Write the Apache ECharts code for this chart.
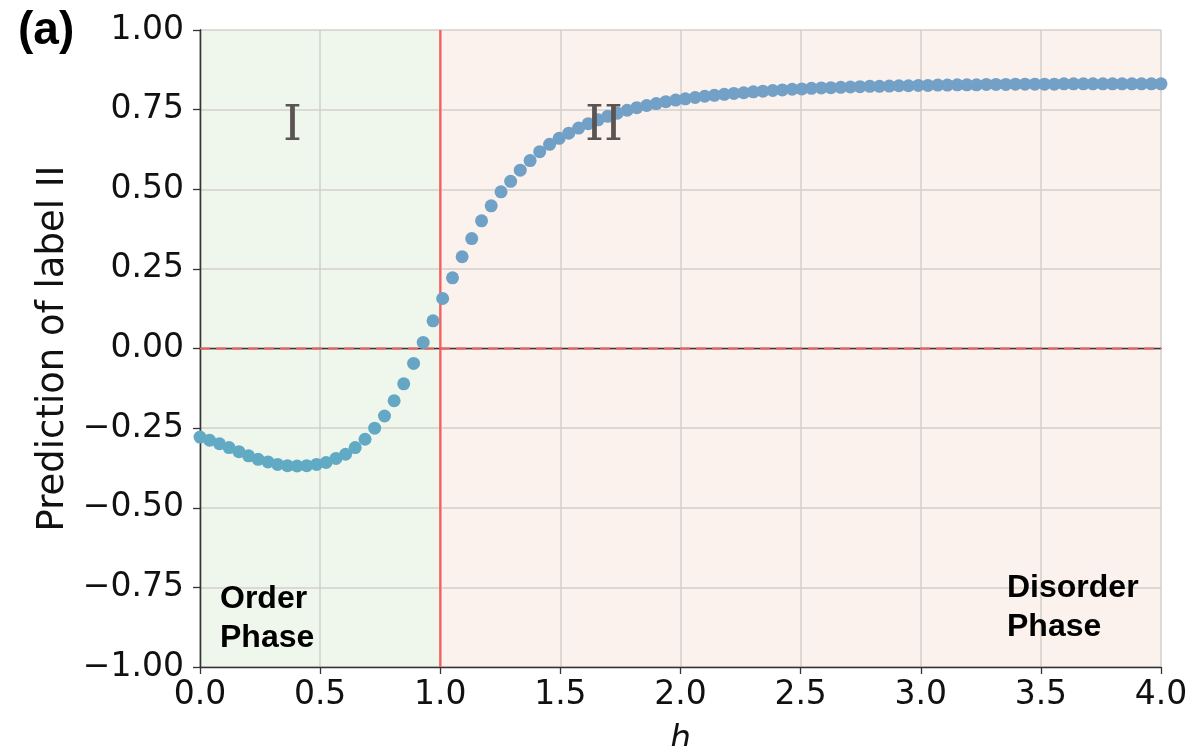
<!DOCTYPE html>
<html>
<head>
<meta charset="utf-8">
<script src="https://cdn.jsdelivr.net/npm/echarts@6/dist/echarts.min.js"></script>
<style>
  html, body { margin: 0; padding: 0; background: #fff; }
  #chart { width: 1196px; height: 746px; }
</style>
</head>
<body>
<div id="chart"></div>
<script>
// h values (100 points, 0 .. 4)
const hValues = [
    0.000, 0.040, 0.081, 0.121, 0.162, 0.202, 0.242, 0.283, 0.323, 0.364,
    0.404, 0.444, 0.485, 0.525, 0.566, 0.606, 0.646, 0.687, 0.727, 0.768,
    0.808, 0.848, 0.889, 0.929, 0.970, 1.010, 1.051, 1.091, 1.131, 1.172,
    1.212, 1.253, 1.293, 1.333, 1.374, 1.414, 1.455, 1.495, 1.535, 1.576,
    1.616, 1.657, 1.697, 1.737, 1.778, 1.818, 1.859, 1.899, 1.939, 1.980,
    2.020, 2.061, 2.101, 2.141, 2.182, 2.222, 2.263, 2.303, 2.343, 2.384,
    2.424, 2.465, 2.505, 2.545, 2.586, 2.626, 2.667, 2.707, 2.747, 2.788,
    2.828, 2.869, 2.909, 2.949, 2.990, 3.030, 3.071, 3.111, 3.152, 3.192,
    3.232, 3.273, 3.313, 3.354, 3.394, 3.434, 3.475, 3.515, 3.556, 3.596,
    3.636, 3.677, 3.717, 3.758, 3.798, 3.838, 3.879, 3.919, 3.960, 4.000
];

// prediction of label II
const predValues = [
    -0.278, -0.288, -0.299, -0.311, -0.324, -0.337, -0.348, -0.356, -0.364, -0.368,
    -0.369, -0.368, -0.364, -0.358, -0.345, -0.332, -0.311, -0.285, -0.250, -0.212,
    -0.164, -0.111, -0.047, 0.019, 0.087, 0.157, 0.222, 0.288, 0.345, 0.401,
    0.448, 0.492, 0.525, 0.560, 0.590, 0.618, 0.641, 0.660, 0.676, 0.692,
    0.706, 0.718, 0.729, 0.739, 0.748, 0.756, 0.763, 0.769, 0.775, 0.780,
    0.784, 0.788, 0.792, 0.795, 0.798, 0.801, 0.803, 0.806, 0.808, 0.810,
    0.812, 0.814, 0.815, 0.817, 0.818, 0.819, 0.820, 0.821, 0.822, 0.823,
    0.823, 0.824, 0.825, 0.825, 0.826, 0.826, 0.827, 0.827, 0.828, 0.828,
    0.828, 0.829, 0.829, 0.829, 0.830, 0.830, 0.830, 0.830, 0.830, 0.831,
    0.831, 0.831, 0.831, 0.831, 0.831, 0.831, 0.831, 0.831, 0.831, 0.831
];

const phaseAreas = [
    { from: 0, to: 1, color: '#eff7ec' },
    { from: 1, to: 4, color: '#fbf1ed' }
];
const criticalH = 1.0;
const xRange = [0, 4];
const yRange = [-1, 1];

const TICK_FONT = 'DejaVu Sans';
const minus = s => s.replace('-', '\u2212');

const chart = echarts.init(document.getElementById('chart'), null, { renderer: 'canvas' });

const baseAxis = {
    axisLine: { show: true, onZero: false, lineStyle: { color: '#333', width: 1.3 } },
    axisTick: { show: true, inside: false, length: 7, lineStyle: { color: '#333', width: 1.3 } },
    splitLine: { show: true, lineStyle: { color: '#d3cfcb', width: 1.5 } }
};

chart.setOption({
    animation: false,
    backgroundColor: '#fff',
    grid: { left: 200, right: 35, top: 30, bottom: 79, containLabel: false, outerBoundsMode: 'none' },
    visualMap: {
        show: false,
        type: 'continuous',
        seriesIndex: 1,
        dimension: 1,
        min: -0.4,
        max: 0.85,
        inRange: { color: ['#5fabc4', '#6ea1c6', '#73a0c6'] }
    },
    xAxis: [{
        ...baseAxis,
        type: 'value',
        min: xRange[0], max: xRange[1], interval: 0.5,
        z: 3,
        name: 'h',
        nameLocation: 'middle',
        nameGap: 57,
        nameTextStyle: { fontFamily: TICK_FONT, fontSize: 33, fontStyle: 'italic', color: '#111' },
        axisLabel: {
            fontFamily: TICK_FONT, fontSize: 33, color: '#111', margin: 12,
            formatter: v => v.toFixed(1)
        }
    }, {
        type: 'value', position: 'top', min: xRange[0], max: xRange[1],
        axisLine: { show: true, lineStyle: { color: '#333', width: 1.3 } },
        axisTick: { show: false }, axisLabel: { show: false }, splitLine: { show: false }, z: 3
    }],
    yAxis: [{
        ...baseAxis,
        type: 'value',
        min: yRange[0], max: yRange[1], interval: 0.25,
        z: 3,
        name: 'Prediction of label II',
        nameLocation: 'middle',
        nameGap: 128,
        nameTextStyle: { fontFamily: TICK_FONT, fontSize: 37, color: '#111' },
        axisLabel: {
            fontFamily: TICK_FONT, fontSize: 33, color: '#111', margin: 16,
            formatter: v => minus(v.toFixed(2))
        }
    }, {
        type: 'value', position: 'right', min: yRange[0], max: yRange[1],
        axisLine: { show: true, lineStyle: { color: '#333', width: 1.3 } },
        axisTick: { show: false }, axisLabel: { show: false }, splitLine: { show: false }, z: 3
    }],
    series: [{
        // phase backgrounds
        type: 'line',
        data: [],
        z: 1,
        silent: true,
        markArea: {
            silent: true,
            data: phaseAreas.map(a => [
                { xAxis: a.from, itemStyle: { color: a.color } },
                { xAxis: a.to }
            ])
        }
    }, {
        type: 'scatter',
        z: 5,
        symbolSize: 13,
        data: hValues.map((h, i) => [h, predValues[i]]),
        itemStyle: { opacity: 1 }
    }, {
        // critical point h = 1
        type: 'line',
        z: 4,
        silent: true,
        symbol: 'none',
        data: [[criticalH, yRange[0]], [criticalH, yRange[1]]],
        lineStyle: { color: '#ff5a5a', width: 2.2, type: 'solid' }
    }, {
        // zero line
        type: 'line',
        z: 4,
        silent: true,
        symbol: 'none',
        data: [[xRange[0], 0], [xRange[1], 0]],
        lineStyle: { color: '#f25c58', width: 2.2, type: [10, 6] }
    }],
    graphic: [
        { type: 'text', z: 100, left: 18, top: 8, style: { text: '(a)', font: 'bold 46px "Liberation Sans", Arial', fill: '#000' } },
        { type: 'text', z: 100, left: 283, top: 104, style: { text: 'I', font: '48px "DejaVu Serif"', fill: '#5a5452' } },
        { type: 'text', z: 100, left: 585, top: 104, style: { text: 'II', font: '48px "DejaVu Serif"', fill: '#5a5452' } },
        { type: 'text', z: 100, left: 220, top: 580, style: { text: 'Order\nPhase', font: 'bold 32px "Liberation Sans", Arial', fill: '#000', lineHeight: 39 } },
        { type: 'text', z: 100, left: 1007, top: 569, style: { text: 'Disorder\nPhase', font: 'bold 32px "Liberation Sans", Arial', fill: '#000', lineHeight: 39 } }
    ]
});
</script>
</body>
</html>
